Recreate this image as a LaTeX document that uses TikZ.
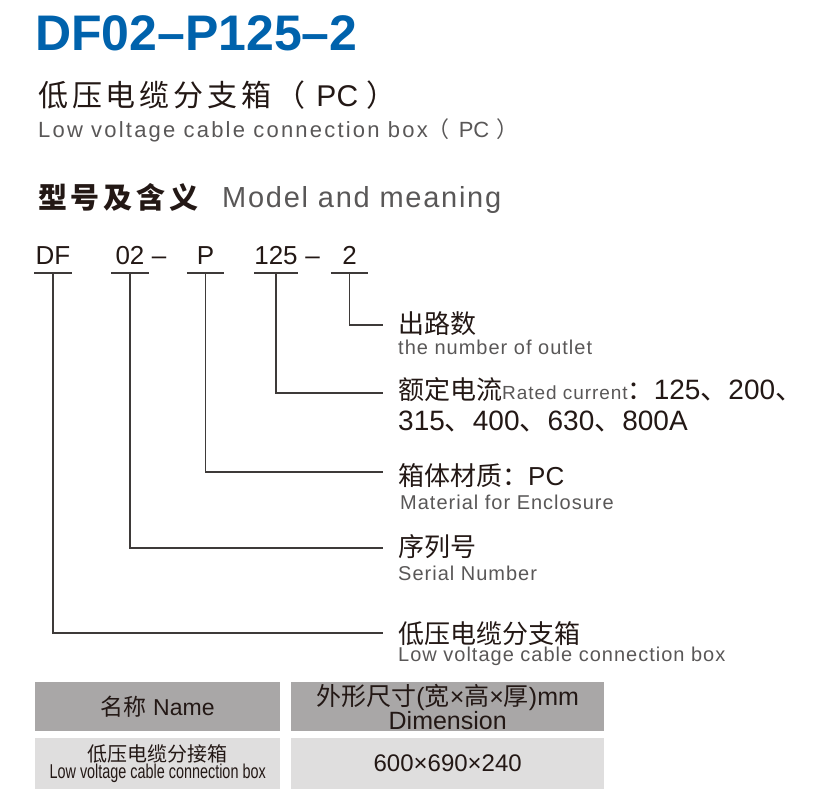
\documentclass[tikz,border=0pt]{standalone}
\usepackage{fontspec}
\setmainfont{Liberation Sans}
\newfontfamily\zhfont{Noto Sans CJK SC}
\newfontfamily\zhwide[LetterSpace=13]{Noto Sans CJK SC}
\newfontfamily\enwide[LetterSpace=10]{Liberation Sans}
\newfontfamily\enmid[LetterSpace=6]{Liberation Sans}
\newfontfamily\enspaced[LetterSpace=5]{Liberation Sans}
\newfontfamily\ennarrow[FakeStretch=0.72]{Liberation Sans}
\newcommand{\zh}[1]{{\zhfont #1}}
\newcommand{\fs}[1]{\fontsize{#1}{#1}\selectfont}
\definecolor{titleblue}{HTML}{0062AC}
\definecolor{ink}{HTML}{231815}
\definecolor{capgray}{HTML}{595757}
\definecolor{leadgray}{HTML}{3E3A39}
\definecolor{headgray}{HTML}{A9A7A7}
\definecolor{rowgray}{HTML}{DFDEDE}
\tikzset{
  txt/.style={anchor=base west, inner sep=0pt, text=ink},
  zhlabel/.style={txt, font=\fs{26}},
  enlabel/.style={txt, text=capgray, font=\enspaced\fs{20}},
  codeitem/.style={anchor=south, inner xsep=0pt, inner ysep=8pt, minimum width=37pt,
    text height=18pt, text depth=0pt, text=ink, font=\fs{26}},
  leader/.style={draw=leadgray, line width=1.5pt},
  cell/.style={anchor=north west, inner sep=0pt, text=ink, align=center},
}
\begin{document}
\begin{tikzpicture}[x=1pt,y=-1pt]
  \useasboundingbox (0,0) rectangle (836,795);
  % heading
  \node[txt, text=titleblue, font=\fs{50}\bfseries] (title) at (35,50) {DF02–P125–2};
  \node[txt, font=\fs{30}] (subZh) at (38,106) {{\zhwide 低压电缆分支箱（}\hspace{11pt}PC\hspace{8pt}\zh{）}};
  \node[txt, text=capgray, font=\fs{22}] (subEn) at (38,137) {{\enwide Low voltage cable connection box}\zh{（}\hspace{9pt}PC\hspace{7pt}\zh{）}};
  \node[txt, font=\zhwide\bfseries\fs{29}] (modelZh) at (38,208) {型号及含义};
  \node[txt, text=capgray, font=\enmid\fs{29}] (modelEn) at (222,207) {Model and meaning};
  % type code, baseline 265, underline 273
  \node[codeitem] (cDF)  at (53,273)    {DF};
  \node[codeitem] (cSer) at (130,273)   {02};
  \node[codeitem, minimum width=0pt, inner ysep=0pt] (dashA) at (159,265) {–};
  \node[codeitem] (cMat) at (205.5,273) {P};
  \node[codeitem] (cCur) at (276,273)   {125};
  \node[codeitem, minimum width=0pt, inner ysep=0pt] (dashB) at (312.5,265) {–};
  \node[codeitem] (cOut) at (349.5,273) {2};
  \foreach \c in {cDF,cSer,cMat,cCur,cOut}
    \draw[leader] (\c.south west) -- (\c.south east);
  % leader ends
  \coordinate (eOut) at (383,325);
  \coordinate (eCur) at (383,393);
  \coordinate (eMat) at (383,472);
  \coordinate (eSer) at (383,548);
  \coordinate (eDF)  at (383,633);
  \draw[leader] (cOut.south) |- (eOut);
  \draw[leader] (cCur.south) |- (eCur);
  \draw[leader] (cMat.south) |- (eMat);
  \draw[leader] (cSer.south) |- (eSer);
  \draw[leader] (cDF.south)  |- (eDF);
  % meanings
  \node[zhlabel] (lOut) at (398,333) {\zh{出路数}};
  \node[enlabel] (lOutEn) at (398,354) {the number of outlet};
  \node[zhlabel] (lCur) at (398,399) {\zh{额定电流}{\color{capgray}\enspaced\fs{19}Rated current}\zh{：}{\fs{28}125\zh{、}200\zh{、}}};
  \node[zhlabel, font=\fs{28}] (lCurB) at (398,430) {315\zh{、}400\zh{、}630\zh{、}800A};
  \node[zhlabel] (lMat) at (398,485) {\zh{箱体材质：}PC};
  \node[enlabel] (lMatEn) at (400,509) {Material for Enclosure};
  \node[zhlabel] (lSer) at (398,556) {\zh{序列号}};
  \node[enlabel] (lSerEn) at (398,580) {Serial Number};
  \node[zhlabel] (lDF) at (398,643) {\zh{低压电缆分支箱}};
  \node[enlabel] (lDFEn) at (398,661) {Low voltage cable connection box};
  % table
  \node[cell, fill=headgray, minimum width=245pt, minimum height=49pt, font=\fs{23}] (tName) at (35,682) {\zh{名称} Name};
  \node[cell, fill=headgray, minimum width=313pt, minimum height=49pt, font=\fontsize{25}{23}\selectfont] (tDim) at (291,682)
    {\zh{外形尺寸}(\zh{宽}×\zh{高}×\zh{厚})mm\\Dimension};
  \node[cell, fill=rowgray, minimum width=245pt, minimum height=51pt, font=\fontsize{20}{17}\selectfont] (tBox) at (35,738)
    {\zh{低压电缆分接箱}\\{\ennarrow Low voltage cable connection box}};
  \node[cell, fill=rowgray, minimum width=313pt, minimum height=51pt, font=\fs{24}] (tSize) at (291,738) {600×690×240};
\end{tikzpicture}
\end{document}
